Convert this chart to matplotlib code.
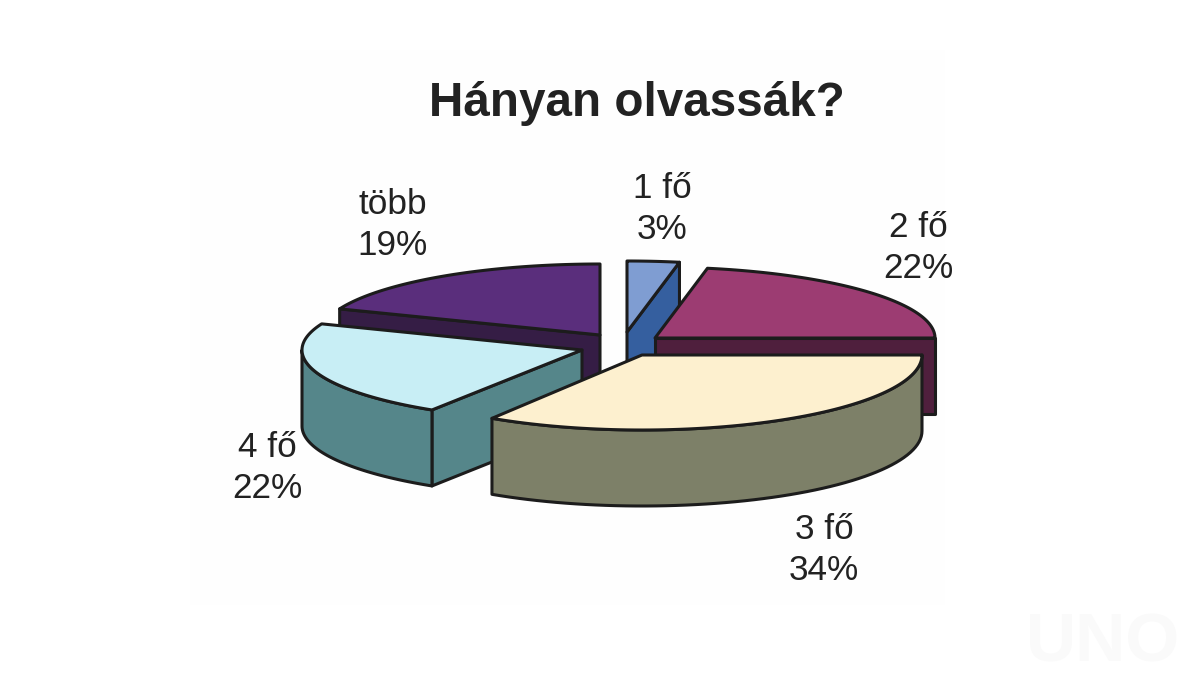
import numpy as np
import matplotlib
matplotlib.use('Agg')
import matplotlib.pyplot as plt
from matplotlib.patches import Polygon, Rectangle

title = 'Hányan olvassák?'
categories = ['1 fő', '2 fő', '3 fő', '4 fő', 'több']
shares = [3, 22, 34, 22, 19]

top_colors = ['#7f9dd2', '#9c3c72', '#fdf0cf', '#c8eef5', '#5a2e7c']
side_colors = ['#355f9f', '#4f1f3d', '#7d8068', '#55868a', '#351d45']

# pie geometry in pixels, the front slice looks a bit deeper in the original
rx, depth = 280, 76
ry = [71, 71, 75, 71, 71]
# where each slice tip ends up after exploding
shift_x = [627, 655, 642, 582, 600]
shift_y = [332, 338, 355, 350, 335]
# painter order, back to front
draw_order = [0, 4, 1, 3, 2]
label_x = [662, 918, 824, 267, 393]
label_y = [209, 248, 550, 468, 225]

plt.rcParams['font.family'] = ['Liberation Sans', 'DejaVu Sans']

fig = plt.figure(figsize=(12, 6.75), dpi=100)
ax = fig.add_axes([0, 0, 1, 1])
ax.set_xlim(0, 1200)
ax.set_ylim(675, 0)
ax.axis('off')

ax.add_patch(Rectangle((190, 50), 755, 555, color='#fefefe', lw=0, zorder=0))


def rim_point(i, angle, drop=0):
    a = np.radians(angle)
    return shift_x[i] + rx * np.sin(a), shift_y[i] - ry[i] * np.cos(a) + drop


def add_poly(points, color, z):
    ax.add_patch(Polygon(points, closed=True, facecolor=color, edgecolor='#1c1c1c',
                         lw=2.2, joinstyle='round', zorder=z))


fractions = np.cumsum([0] + shares) / sum(shares) * 360
for z, i in enumerate(draw_order):
    start, end = fractions[i], fractions[i + 1]
    tx, ty = shift_x[i], shift_y[i]
    base = 10 + z * 5

    # flat cut faces, only the ones turned to the viewer
    for angle, visible in ((start, np.sin(np.radians(start)) < -1e-6),
                           (end, np.sin(np.radians(end)) > 1e-6)):
        if visible:
            px, py = rim_point(i, angle)
            face = [(tx, ty), (px, py), (px, py + depth), (tx, ty + depth)]
            add_poly(face, side_colors[i], base)

    # curved outside wall, front half only
    lo, hi = max(start, 90), min(end, 270)
    if hi > lo:
        angles = np.linspace(lo, hi, 60)
        upper = [rim_point(i, a) for a in angles]
        lower = [rim_point(i, a, depth) for a in angles[::-1]]
        add_poly(upper + lower, side_colors[i], base + 1)

    # top of the slice
    angles = np.linspace(start, end, 80)
    add_poly([(tx, ty)] + [rim_point(i, a) for a in angles], top_colors[i], base + 2)

ax.text(637, 103, title, ha='center', va='center', fontsize=34.3, fontweight='bold',
        color='#222222', zorder=50)

for name, share, x, y in zip(categories, shares, label_x, label_y):
    ax.text(x, y, f'{name}\n{share}%', ha='center', va='center', fontsize=25.3,
            linespacing=1.32, color='#222222', zorder=50)

ax.text(1103, 643, 'UNO', ha='center', va='center', fontsize=50, fontweight='bold',
        color='#fafafa', zorder=1)

fig.savefig('out.png', dpi=100, facecolor='white')
